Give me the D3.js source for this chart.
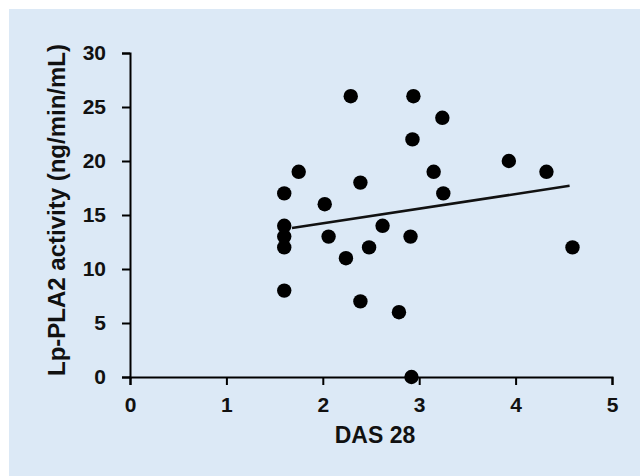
<!DOCTYPE html>
<html>
<head>
<meta charset="utf-8">
<script src="https://cdn.jsdelivr.net/npm/d3@7"></script>
<style>
  body { margin: 0; background: #fff; }
  text { font-family: "Liberation Sans", Arial, sans-serif; font-weight: bold; }
</style>
</head>
<body>
<div id="my_dataviz"></div>
<script>
// values
const das28 = [1.6, 1.6, 1.6, 1.6, 1.6, 1.75, 2.02, 2.06, 2.24, 2.29, 2.39, 2.39, 2.48, 2.62, 2.79,
               2.91, 2.93, 2.94, 2.92, 3.15, 3.24, 3.25, 3.93, 4.32, 4.59];
const lppla2 = [17, 14, 13, 12, 8, 19, 16, 13, 11, 26, 18, 7, 12, 14, 6,
                13, 22, 26, 0, 19, 24, 17, 20, 19, 12];
const trendX = [1.68, 4.56];
const trendY = [13.8, 17.7];
const xTicks = [0, 1, 2, 3, 4, 5];
const yTicks = [0, 5, 10, 15, 20, 25, 30];

const W = 640, H = 476;
const margin = {top: 53, right: 28, bottom: 99, left: 130},
    width = W - margin.left - margin.right,
    height = H - margin.top - margin.bottom;

const root = d3.select("#my_dataviz")
  .append("svg")
    .attr("width", W)
    .attr("height", H);

// light blue panel
root.append("rect")
  .attr("x", 9).attr("y", 9)
  .attr("width", W - 9).attr("height", H - 9)
  .attr("fill", "#dce9f6");

const svg = root.append("g")
  .attr("transform", `translate(${margin.left},${margin.top})`);

const x = d3.scaleLinear().domain([0, 5]).range([0, width]);
const y = d3.scaleLinear().domain([0, 30]).range([height, 0]);

// axes
const xAxis = svg.append("g")
  .attr("transform", `translate(0, ${height})`)
  .call(d3.axisBottom(x).tickValues(xTicks).tickSize(8).tickPadding(12).tickFormat(d3.format("d")));
const yAxis = svg.append("g")
  .call(d3.axisLeft(y).tickValues(yTicks).tickSize(8).tickPadding(16).tickFormat(d3.format("d")));

[xAxis, yAxis].forEach(function(a) {
  a.selectAll("path, line").attr("stroke", "#000").attr("stroke-width", 2);
  a.selectAll("text").attr("fill", "#111").style("font-size", "21px");
});

// trend line
const data = das28.map(function(d, i) { return {x: d, y: lppla2[i]}; });
const trend = trendX.map(function(d, i) { return [d, trendY[i]]; });
svg.append("path")
  .datum(trend)
  .attr("fill", "none")
  .attr("stroke", "#111")
  .attr("stroke-width", 2.5)
  .attr("d", d3.line()
    .x(function(d) { return x(d[0]); })
    .y(function(d) { return y(d[1]); }));

// dots
svg.selectAll("circle")
  .data(data)
  .enter().append("circle")
  .attr("r", 7.2)
  .attr("cx", function(d) { return x(d.x); })
  .attr("cy", function(d) { return y(d.y); })
  .attr("fill", "#000");

// axis titles
svg.append("text")
  .attr("x", width / 2 + 4)
  .attr("y", height + 66)
  .attr("text-anchor", "middle")
  .attr("fill", "#111")
  .style("font-size", "23px")
  .text("DAS 28");

svg.append("text")
  .attr("transform", `translate(${65 - margin.left}, ${210 - margin.top}) rotate(-90)`)
  .attr("text-anchor", "middle")
  .attr("fill", "#111")
  .style("font-size", "24px")
  .text("Lp-PLA2 activity (ng/min/mL)");
</script>
</body>
</html>
